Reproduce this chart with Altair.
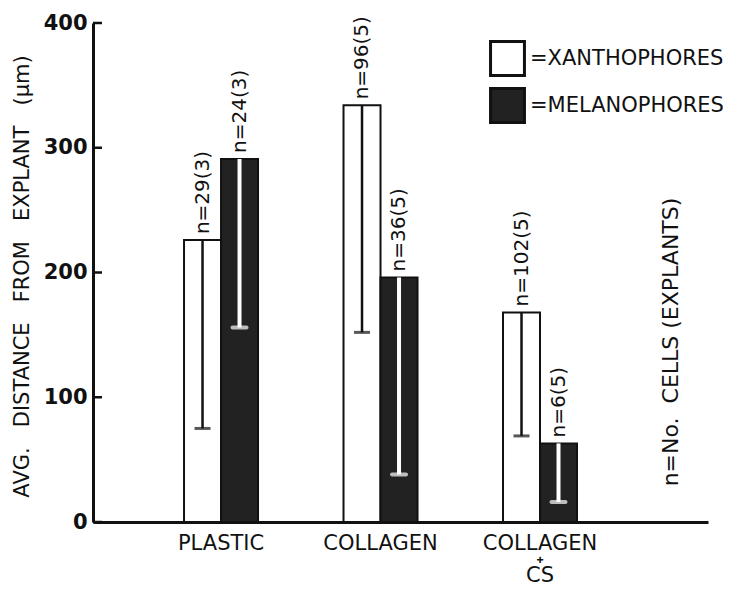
import altair as alt
import pandas as pd

# ---- data ----
categories = ["PLASTIC", "COLLAGEN", "COLLAGEN + CS"]
series_names = ["XANTHOPHORES", "MELANOPHORES"]
xan_mean = [226, 334, 168]
xan_sd = [151, 182, 99]
mel_mean = [291, 196, 63]
mel_sd = [135, 158, 47]
xan_n = ["n=29(3)", "n=96(5)", "n=102(5)"]
mel_n = ["n=24(3)", "n=36(5)", "n=6(5)"]
y_ticks = [0, 100, 200, 300, 400]
GAP = "\u00a0\u00a0\u00a0"
y_title = "AVG." + GAP + "DISTANCE" + GAP + "FROM" + GAP + "EXPLANT" + GAP + "(\u00b5m)"
note = "n=No.\u00a0\u00a0CELLS (EXPLANTS)"

rows = []
for i, c in enumerate(categories):
    rows.append({"cat": c, "series": series_names[0], "mean": xan_mean[i],
                 "sd": xan_sd[i], "n": xan_n[i]})
    rows.append({"cat": c, "series": series_names[1], "mean": mel_mean[i],
                 "sd": mel_sd[i], "n": mel_n[i]})
df = pd.DataFrame(rows)
df["low"] = df["mean"] - df["sd"]

FONT = "DejaVu Sans"
INK = "#111111"

xscale = alt.Scale(domain=categories, paddingInner=0.536, paddingOuter=0.696, align=0.41)
xaxis = alt.Axis(ticks=False, grid=False, domainWidth=3, domainColor=INK,
                 labelFont=FONT, labelFontSize=21, labelColor=INK, labelPadding=10,
                 labelAngle=0, labelLineHeight=16, labelLimit=300,
                 labelExpr="datum.value == 'COLLAGEN + CS' ? ['COLLAGEN', '\u02d6', 'CS'] : datum.value",
                 title=None)
yscale = alt.Scale(domain=[0, 400], nice=False, zero=True)
yaxis = alt.Axis(values=y_ticks, ticks=False, grid=False, domainWidth=3, domainColor=INK,
                 labelFont=FONT, labelFontWeight="bold", labelFontSize=21, labelColor=INK,
                 labelPadding=6, title=y_title, titleFont=FONT, titleFontSize=21,
                 titleFontWeight="normal", titleColor=INK, titleAngle=270,
                 titleX=-71, titleY=253, titleAlign="center", titleBaseline="middle")

X = alt.X("cat:N", sort=categories, scale=xscale, axis=xaxis)
XO = alt.XOffset("series:N", sort=series_names,
                 scale=alt.Scale(domain=series_names, paddingInner=0, paddingOuter=0))


def Y(field):
    return alt.Y(field, type="quantitative", scale=yscale, axis=yaxis)


base = alt.Chart(df)

bars = base.mark_bar(stroke=INK, strokeWidth=2).encode(
    x=X, xOffset=XO, y=Y("mean"),
    fill=alt.Fill("series:N", sort=series_names,
                  scale=alt.Scale(domain=series_names, range=["white", "#222222"]),
                  legend=alt.Legend(title=None, orient="none", legendX=396, legendY=17,
                                    symbolType="square", symbolSize=1150,
                                    symbolStrokeColor=INK, symbolStrokeWidth=3,
                                    labelExpr="'=' + datum.label", labelFont=FONT,
                                    labelFontSize=21, labelColor=INK, labelLimit=300,
                                    rowPadding=0, labelOffset=4, padding=0)),
)

err_x = base.transform_filter(alt.datum.series == series_names[0]).mark_rule(
    color=INK, strokeWidth=2.5).encode(x=X, xOffset=XO, y=Y("mean"), y2="low:Q")
err_m = base.transform_filter(alt.datum.series == series_names[1]).mark_rule(
    color="white", strokeWidth=4).encode(x=X, xOffset=XO, y=Y("mean"), y2="low:Q")
cap_x = base.transform_filter(alt.datum.series == series_names[0]).mark_tick(
    color=INK, thickness=3, size=16).encode(x=X, xOffset=XO, y=Y("low"))
cap_m = base.transform_filter(alt.datum.series == series_names[1]).mark_tick(
    color="white", thickness=4, size=18, cornerRadius=2).encode(x=X, xOffset=XO, y=Y("low"))

labels = base.mark_text(angle=270, align="left", baseline="middle", dx=6,
                        font=FONT, fontSize=20, color=INK).encode(
    x=X, xOffset=XO, y=Y("mean"), text="n:N")

ytick_marks = alt.Chart(pd.DataFrame({"v": y_ticks})).mark_rule(
    color=INK, strokeWidth=2.5).encode(y=Y("v"), x=alt.value(0), x2=alt.value(9))

note_layer = alt.Chart(pd.DataFrame({"t": [note]})).mark_text(
    angle=270, align="center", baseline="middle", font=FONT, fontSize=22, color=INK
).encode(text="t:N", x=alt.value(578), y=alt.value(319))

chart = alt.layer(bars, err_x, err_m, cap_x, cap_m, labels, ytick_marks, note_layer).properties(
    width=615, height=499,
    autosize=alt.AutoSizeParams(type="none"),
    padding={"left": 85, "top": 15, "right": 22, "bottom": 64},
    background="white",
).configure_view(stroke=None)

chart.save("out.html", embed_options={"renderer": "svg", "actions": False})
